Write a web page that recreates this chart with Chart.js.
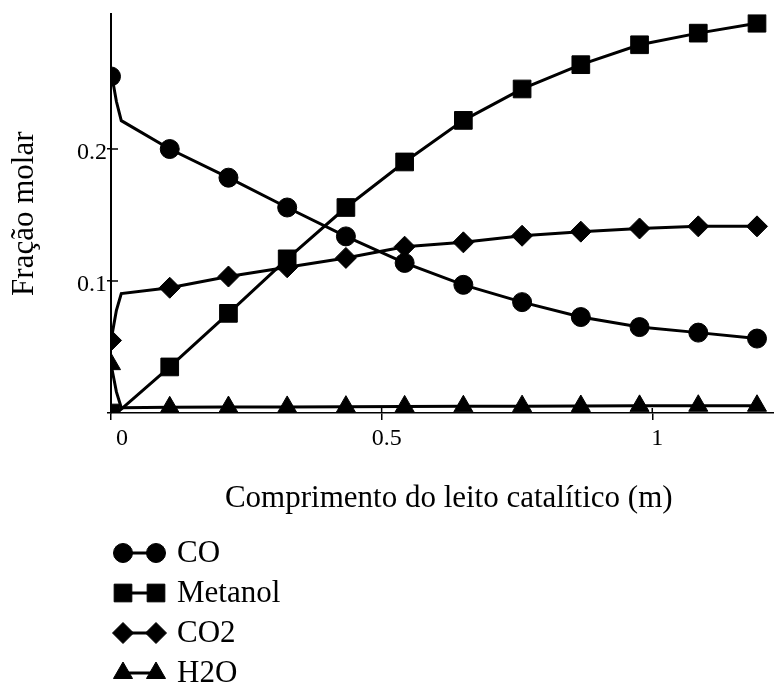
<!DOCTYPE html>
<html lang="pt">
<head>
<meta charset="utf-8">
<title>Fração molar ao longo do leito catalítico</title>
<script src="https://cdn.jsdelivr.net/npm/chart.js@4/dist/chart.umd.min.js"></script>
<style>
  html, body { margin: 0; padding: 0; background: #fff; overflow: hidden; }
  #wrap { width: 774px; height: 690px; overflow: hidden; }
  canvas { display: block; }
</style>
</head>
<body>
<div id="wrap"><canvas id="fracChart" width="800" height="690"></canvas></div>
<script>
// comprimento do leito (m) - 0.005..0.019 only follow the sharp drop right at the inlet
const comprimento = [0, 0.005, 0.01, 0.019, 0.1085, 0.217, 0.3255, 0.434, 0.5425, 0.651, 0.7595, 0.868, 0.9765, 1.085, 1.1935];

const co      = [0.255, 0.2475, 0.236, 0.2215, 0.200, 0.1783, 0.1557, 0.1338, 0.1137, 0.0971, 0.0840, 0.0727, 0.0651, 0.0609, 0.0564];
const metanol = [0, 0, 0, 0.003, 0.0349, 0.0755, 0.1168, 0.1557, 0.1902, 0.2217, 0.2455, 0.2639, 0.2790, 0.2878, 0.2953];
const co2     = [0.055, 0.0664, 0.0778, 0.0905, 0.0949, 0.1034, 0.1104, 0.1175, 0.1260, 0.1293, 0.1343, 0.1374, 0.1398, 0.1414, 0.1414];
const h2o     = [0.037, 0.0265, 0.016, 0.0040, 0.0043, 0.0045, 0.0046, 0.0048, 0.0050, 0.0051, 0.0052, 0.0053, 0.0054, 0.0055, 0.0055];

const xTicks = [0, 0.5, 1];
const xTickLabels = ['0', '0.5', '1'];
const yTicks = [0, 0.1, 0.2];
const yTickLabels = ['', '0.1', '0.2'];

const serif = "'Liberation Serif', 'Times New Roman', serif";

// markers only on the regular grid points, not on the inlet trace
const isMarker = i => comprimento[i] === 0 || comprimento[i] > 0.1;

function serie(label, values, pointStyle, markerSize) {
  return {
    label,
    data: comprimento.map((x, i) => ({ x, y: values[i] })),
    borderColor: '#000',
    backgroundColor: '#000',
    borderWidth: 3,
    pointStyle,
    markerSize,
    pointRadius: ctx => isMarker(ctx.dataIndex) ? markerSize : 0,
    pointHoverRadius: ctx => isMarker(ctx.dataIndex) ? markerSize : 0,
    pointBorderWidth: 1,
    pointBorderColor: '#000',
    pointBackgroundColor: '#000',
    tension: 0
  };
}

// small inward parts of the tick marks (they cross the axes)
const innerTicks = {
  id: 'innerTicks',
  afterDraw(chart) {
    const { ctx, chartArea, scales: { x, y } } = chart;
    ctx.save();
    ctx.strokeStyle = '#000';
    ctx.lineWidth = 1.5;
    ctx.beginPath();
    xTicks.slice(1).forEach(v => {
      const px = x.getPixelForValue(v);
      ctx.moveTo(px, chartArea.bottom);
      ctx.lineTo(px, chartArea.bottom - 5);
    });
    yTicks.slice(1).forEach(v => {
      const py = y.getPixelForValue(v);
      ctx.moveTo(chartArea.left, py);
      ctx.lineTo(chartArea.left + 7, py);
    });
    ctx.stroke();
    ctx.restore();
  }
};

// legend below the chart: two markers joined by a line, then the name
const markerLegend = {
  id: 'markerLegend',
  afterDraw(chart) {
    const { ctx } = chart;
    chart.data.datasets.forEach((ds, i) => {
      const y = 553 + i * 40;
      ctx.save();
      ctx.strokeStyle = '#000';
      ctx.fillStyle = '#000';
      ctx.lineWidth = 3;
      ctx.beginPath();
      ctx.moveTo(123, y);
      ctx.lineTo(156, y);
      ctx.stroke();
      ctx.lineWidth = 1;
      [123, 156].forEach(px => {
        Chart.helpers.drawPoint(ctx, { pointStyle: ds.pointStyle, radius: ds.markerSize, rotation: 0, borderWidth: 1 }, px, y);
      });
      ctx.font = `31px ${serif}`;
      ctx.textBaseline = 'middle';
      ctx.textAlign = 'left';
      ctx.fillText(ds.label, 177, y + 1);
      ctx.restore();
    });
  }
};

new Chart(document.getElementById('fracChart'), {
  type: 'line',
  data: {
    datasets: [
      serie('CO', co, 'circle', 9.5),
      serie('Metanol', metanol, 'rect', 12.5),
      serie('CO2', co2, 'rectRot', 10.5),
      serie('H2O', h2o, 'triangle', 11)
    ]
  },
  options: {
    responsive: false,
    animation: false,
    layout: { padding: { top: 13, bottom: 173, left: 0, right: 0 } },
    plugins: {
      legend: { display: false },
      tooltip: { enabled: false }
    },
    scales: {
      x: {
        type: 'linear',
        min: 0,
        max: 1.248,
        afterBuildTicks: s => { s.ticks = xTicks.map(value => ({ value })); },
        afterFit: s => { s.height = 104; },
        border: { display: true, color: '#000', width: 1.5 },
        grid: { drawOnChartArea: false, color: '#000', lineWidth: 1.5, tickLength: 7 },
        ticks: {
          color: '#000',
          font: { family: serif, size: 24 },
          padding: 4,
          maxRotation: 0,
          labelOffset: 5,
          // the "0" sits a little further right, clear of the corner
          callback: (v, i) => i === 0 ? '  ' + xTickLabels[i] : xTickLabels[i]
        },
        title: {
          display: true,
          text: 'Comprimento do leito catalítico (m)',
          color: '#000',
          font: { family: serif, size: 31 },
          padding: { top: 0, bottom: 0 }
        }
      },
      y: {
        min: 0,
        max: 0.302,
        afterBuildTicks: s => { s.ticks = yTicks.map(value => ({ value })); },
        afterFit: s => { s.width = 111; },
        border: { display: true, color: '#000', width: 2 },
        grid: { drawOnChartArea: false, color: '#000', lineWidth: 1.5, tickLength: 4 },
        ticks: {
          color: '#000',
          font: { family: serif, size: 24 },
          padding: 0,
          labelOffset: 4,
          callback: (v, i) => yTickLabels[i]
        },
        title: {
          display: true,
          text: 'Fração molar',
          color: '#000',
          font: { family: serif, size: 31 },
          padding: { top: 6, bottom: 0 }
        }
      }
    }
  },
  plugins: [innerTicks, markerLegend]
});
</script>
</body>
</html>
